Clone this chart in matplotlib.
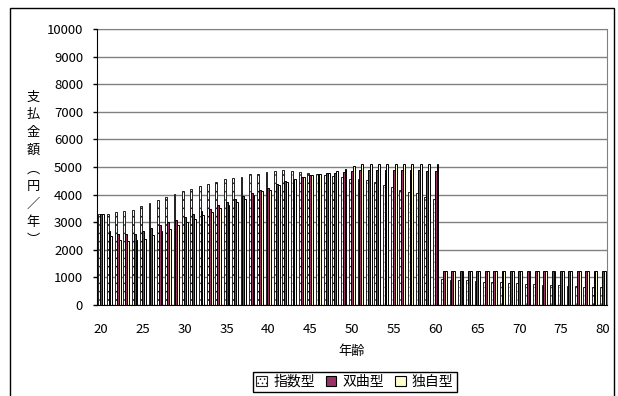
import numpy as np
import matplotlib
matplotlib.use("Agg")
import matplotlib.pyplot as plt
from matplotlib.patches import Rectangle, Patch

plt.rcParams["font.family"] = ["Noto Sans CJK JP", "DejaVu Sans"]
plt.rcParams["hatch.linewidth"] = 0.6

ages = list(range(20, 81))

# 指数型
exp_pay = [3300, 3310, 3370, 3400, 3440, 3590, 3700, 3800, 3900, 4020,
           4130, 4190, 4310, 4400, 4460, 4550, 4600, 4640, 4730, 4760,
           4820, 4860, 4880, 4860, 4820, 4790, 4750, 4700, 4660, 4620,
           4580, 4550, 4520, 4460, 4340, 4280, 4160, 4100, 4040, 3910,
           3830,
           960, 920, 900, 890, 870, 850, 840, 820, 800, 790,
           770, 760, 740, 730, 710, 700, 690, 670, 660, 650]
# 双曲型
hyp_pay = [3300, 2670, 2580, 2560, 2560, 2670, 2800, 2900, 3000, 3090,
           3190, 3280, 3390, 3490, 3610, 3730, 3830, 3950, 4040, 4180,
           4250, 4370, 4490, 4540, 4620, 4700, 4750, 4770, 4800, 4830,
           4860, 4880, 4890, 4900, 4900, 4900, 4900, 4890, 4880, 4860,
           4840,
           1220, 1220, 1220, 1220, 1220, 1220, 1220, 1220, 1220, 1220,
           1220, 1220, 1220, 1220, 1220, 1220, 1220, 1220, 1220, 1220]
# 独自型
own_pay = [3300, 2490, 2360, 2330, 2360, 2400, 2550, 2670, 2760, 2900,
           3000, 3130, 3250, 3370, 3530, 3640, 3730, 3850, 4000, 4130,
           4160, 4330, 4450, 4580, 4640, 4700, 4750, 4790, 4860, 4920,
           5030, 5100, 5100, 5100, 5100, 5100, 5100, 5100, 5100, 5100,
           5100,
           1250, 1250, 1250, 1250, 1250, 1250, 1250, 1250, 1250, 1250,
           1250, 1250, 1250, 1250, 1250, 1250, 1250, 1250, 1250, 1250]

series = ["指数型", "双曲型", "独自型"]
y_label = ["支", "払", "金", "額", "︵", "円", "／", "年", "︶"]

W, H = 618, 396
fig = plt.figure(figsize=(W / 100, H / 100), dpi=100)
fig.patches.append(Rectangle((10 / W, -0.05), 604 / W, (H - 8) / H + 0.05,
                             transform=fig.transFigure, fill=False,
                             edgecolor="black", lw=1.0))

ax = fig.add_axes([97 / W, (H - 305) / H, 510 / W, 276 / H])

x = np.arange(len(ages))
bw = 1 / 4.5
styles = [
    dict(facecolor="white", hatch="....", edgecolor="#202020"),
    dict(facecolor="#993366", edgecolor="black"),
    dict(facecolor="#FFFFCC", edgecolor="black"),
]
for k, (vals, st) in enumerate(zip([exp_pay, hyp_pay, own_pay], styles)):
    ax.bar(x + (k - 1) * bw, vals, width=bw, linewidth=0.7, zorder=3, **st)

ax.set_xlim(-0.5, len(ages) - 0.5)
ax.set_ylim(0, 10000)
ax.set_yticks(np.arange(0, 10001, 1000))
ax.yaxis.grid(True, color="#808080", lw=1.0, zorder=0)
ax.set_xticks([a - 20 for a in ages if a % 5 == 0])
ax.set_xticklabels([str(a) for a in ages if a % 5 == 0])
ax.tick_params(axis="x", length=0, pad=13, labelsize=9.5)
ax.tick_params(axis="y", length=3, width=1, pad=7, labelsize=9.5)
for side in ("top", "right"):
    ax.spines[side].set_color("#808080")
for side in ("left", "bottom"):
    ax.spines[side].set_color("black")
    ax.spines[side].set_zorder(4)

fig.text(352 / W, 1 - 352 / H, "年齢", ha="center", va="center", fontsize=9.5)

for i, ch in enumerate(y_label):
    fig.text(33 / W, 1 - (97 + i * 17.9) / H, ch, ha="center", va="center",
             fontsize=9.5)

handles = [Patch(**st, linewidth=0.8) for st in styles]
fig.legend(handles, series, loc="center", bbox_to_anchor=(355 / W, 1 - 382 / H),
           ncol=3, fontsize=10, frameon=True, fancybox=False, framealpha=1,
           edgecolor="black", handlelength=0.75, handleheight=0.75,
           handletextpad=0.45, columnspacing=0.8, borderpad=0.25,
           borderaxespad=0)

fig.savefig("out.png", dpi=100)
